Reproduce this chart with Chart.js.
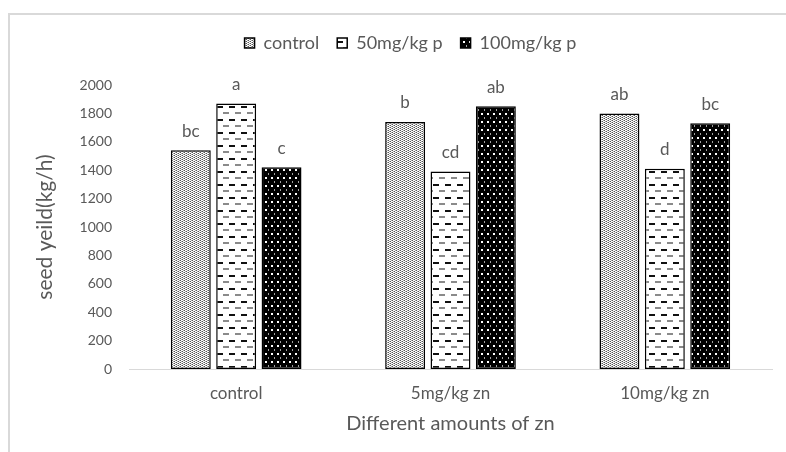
<!DOCTYPE html>
<html>
<head>
<meta charset="utf-8">
<script src="https://cdn.jsdelivr.net/npm/chart.js@4.4.1/dist/chart.umd.min.js"></script>
<style>
  html, body { margin: 0; padding: 0; background: #fff; }
  #wrap { position: relative; width: 786px; height: 452px; overflow: hidden; }
  #frame { position: absolute; left: 8px; top: 13px; width: 800px; height: 460px;
           border-left: 2px solid #d9d9d9; border-top: 2px solid #d9d9d9; }
  canvas { position: absolute; left: 0; top: 0; }
</style>
</head>
<body>
<div id="wrap">
  <div id="frame"></div>
  <canvas id="chart" width="786" height="452"></canvas>
</div>
<script>
  const categories = ['control', '5mg/kg zn', '10mg/kg zn'];
  const seriesNames = ['control', '50mg/kg p', '100mg/kg p'];

  const controlP = [1540, 1740, 1800];
  const p50 = [1870, 1390, 1410];
  const p100 = [1420, 1850, 1730];

  const lettersControl = ['bc', 'b', 'ab'];
  const letters50 = ['a', 'cd', 'd'];
  const letters100 = ['c', 'ab', 'bc'];

  const yTicks = [0, 200, 400, 600, 800, 1000, 1200, 1400, 1600, 1800, 2000];

  const grey = '#595959';
  const fontFamily = 'Lato, "Liberation Sans", sans-serif';

  // fill patterns like Excel's pattern fills
  function makePattern(w, h, draw) {
    const c = document.createElement('canvas');
    c.width = w;
    c.height = h;
    draw(c.getContext('2d'));
    return document.getElementById('chart').getContext('2d').createPattern(c, 'repeat');
  }

  const stipple = makePattern(4, 4, (g) => {
    g.fillStyle = '#ffffff';
    g.fillRect(0, 0, 4, 4);
    g.fillStyle = '#555555';
    g.fillRect(0, 0, 1, 1);
    g.fillRect(2, 1, 1, 1);
    g.fillRect(0, 2, 1, 1);
    g.fillRect(2, 3, 1, 1);
    g.fillStyle = '#aaaaaa';
    g.fillRect(1, 1, 1, 1);
    g.fillRect(3, 0, 1, 1);
    g.fillRect(1, 3, 1, 1);
    g.fillRect(3, 2, 1, 1);
  });

  const dashes = makePattern(12, 13, (g) => {
    g.fillStyle = '#ffffff';
    g.fillRect(0, 0, 12, 13);
    g.fillStyle = '#111111';
    g.fillRect(1, 2, 6, 2);
    g.fillStyle = '#8a8a8a';
    g.fillRect(7, 8, 5, 2);
    g.fillRect(0, 8, 1, 2);
  });

  const dots = makePattern(6, 8, (g) => {
    g.fillStyle = '#000000';
    g.fillRect(0, 0, 6, 8);
    g.fillStyle = '#ffffff';
    g.fillRect(1, 1, 2, 2);
    g.fillStyle = '#a0a0a0';
    g.fillRect(4, 5, 1, 2);
  });

  const letterPlugin = {
    id: 'letters',
    afterDatasetsDraw(chart) {
      const ctx = chart.ctx;
      const allLetters = [lettersControl, letters50, letters100];
      ctx.save();
      ctx.font = '17px ' + fontFamily;
      ctx.fillStyle = grey;
      ctx.textAlign = 'center';
      ctx.textBaseline = 'middle';
      chart.data.datasets.forEach((ds, i) => {
        chart.getDatasetMeta(i).data.forEach((bar, j) => {
          ctx.fillText(allLetters[i][j], bar.x, bar.y - 19);
        });
      });
      ctx.restore();
    }
  };

  // extra room under the legend, and nudge it right like the original
  const legendSpace = {
    id: 'legendSpace',
    beforeInit(chart) {
      const fit = chart.legend.fit;
      chart.legend.fit = function () {
        fit.bind(chart.legend)();
        this.height += 23;
      };
    },
    afterLayout(chart) {
      chart.legend.left += 12;
      chart.legend.right += 12;
    }
  };

  const config = {
    type: 'bar',
    data: {
      labels: categories,
      datasets: [
        { label: seriesNames[0], data: controlP, backgroundColor: stipple },
        { label: seriesNames[1], data: p50, backgroundColor: dashes },
        { label: seriesNames[2], data: p100, backgroundColor: dots },
      ].map((d) => Object.assign(d, {
        borderColor: '#000000',
        borderWidth: 1.5,
        borderSkipped: false,
        barPercentage: 0.88,
        categoryPercentage: 0.635,
      })),
    },
    options: {
      responsive: false,
      animation: false,
      layout: { padding: { top: 16, right: 14, left: 25, bottom: 0 } },
      plugins: {
        legend: {
          position: 'top',
          labels: {
            boxWidth: 10,
            boxHeight: 10,
            padding: 18,
            color: grey,
            font: { size: 18, family: fontFamily },
          },
        },
        tooltip: { enabled: false },
      },
      scales: {
        x: {
          grid: { display: false, drawTicks: false },
          border: { display: true, color: '#d9d9d9', width: 1 },
          ticks: { color: grey, padding: 14, font: { size: 17, family: fontFamily } },
          title: {
            display: true,
            text: 'Different amounts of zn',
            color: grey,
            font: { size: 20, family: fontFamily },
            padding: { top: 8, bottom: 16 },
          },
          afterFit(scale) { scale.height = 83; },
        },
        y: {
          min: 0,
          max: 2000,
          afterBuildTicks(scale) { scale.ticks = yTicks.map((v) => ({ value: v })); },
          grid: { display: false, drawTicks: false },
          border: { display: false },
          ticks: {
            color: grey,
            padding: 17,
            font: { size: 14, family: fontFamily },
            callback: (v) => String(v),
          },
          title: {
            display: true,
            text: 'seed yeild(kg/h)',
            color: grey,
            font: { size: 21, family: fontFamily },
            padding: { top: 8, bottom: 8 },
          },
          afterFit(scale) { scale.width = 104; },
        },
      },
    },
    plugins: [letterPlugin, legendSpace],
  };

  new Chart(document.getElementById('chart'), config);
</script>
</body>
</html>
